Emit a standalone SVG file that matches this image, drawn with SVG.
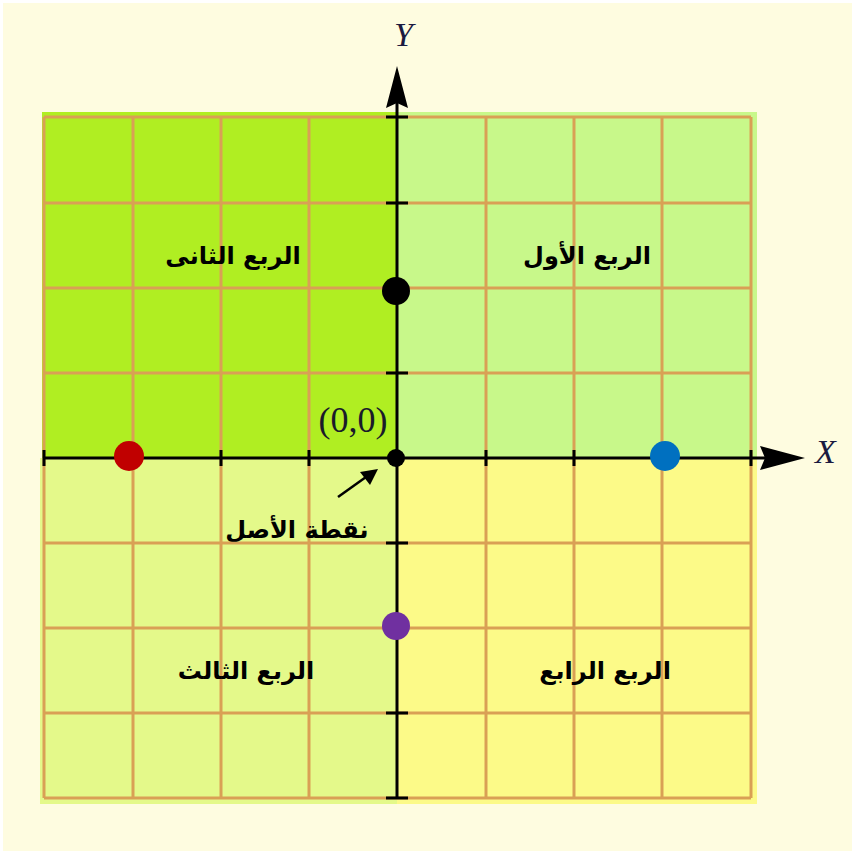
<svg xmlns="http://www.w3.org/2000/svg" width="855" height="854" viewBox="0 0 855 854">
<defs>
<style>
.grid{stroke:#D9A055;stroke-width:3;fill:none}
.axis{stroke:#000;stroke-width:3;fill:none}
.tick{stroke:#000;stroke-width:3}
.ar{font-family:"DejaVu Sans",sans-serif;font-weight:bold;font-size:24px;fill:#000;text-anchor:middle}
.lat{font-family:"Liberation Serif",serif;font-style:italic;font-size:34px;fill:#1a1a40}
</style>
</defs>
<rect x="0" y="0" width="855" height="854" fill="#ffffff"/>
<rect x="3" y="3" width="849" height="848" fill="#FEFCE0"/>
<g id="quadrants">
<rect id="q2" x="42" y="112" width="355" height="346" fill="#B0EE22"/>
<rect id="q1" x="397" y="112" width="360" height="346" fill="#C8F88A"/>
<rect id="q3" x="40" y="458" width="357" height="346" fill="#E4F98A"/>
<rect id="q4" x="397" y="458" width="360" height="346" fill="#FCFA88"/>
</g>
<g id="grid" class="grid">
<path d="M44 117V798M133 117V798M221 117V798M309 117V798M486 117V798M574 117V798M662 117V798M751 117V798"/>
<path d="M44 117H751M44 203H751M44 288H751M44 373H751M44 543H751M44 628H751M44 713H751M44 798H751"/>
</g>
<g id="connectors">
<line class="axis" x1="44" y1="458" x2="765" y2="458"/>
<polygon points="805,458 760,446 765,458 760,470" fill="#000"/>
<line class="axis" x1="397" y1="798" x2="397" y2="100"/>
<polygon points="397,66 386,108 397,103 408,108" fill="#000"/>
<g class="tick">
<path d="M44 450V466M133 450V466M221 450V466M309 450V466M486 450V466M574 450V466M662 450V466M751 450V466"/>
<path d="M386 117H408M386 203H408M386 288H408M386 373H408M386 543H408M386 628H408M386 713H408M386 798H408"/>
</g>
<line x1="338" y1="497" x2="366" y2="477" stroke="#000" stroke-width="2.5"/>
<polygon points="378,469 360,472 370,485" fill="#000"/>
</g>
<g id="labels">
<text class="lat" x="394" y="46">Y</text>
<text class="lat" x="815" y="463">X</text>
<text x="353" y="432" font-family="Liberation Serif,serif" font-size="36" fill="#1a1a2a" text-anchor="middle">(0,0)</text>
<text class="ar" x="233" y="264" direction="rtl">الربع الثانى</text>
<text class="ar" x="587" y="264" direction="rtl">الربع الأول</text>
<text class="ar" x="246" y="679" direction="rtl">الربع الثالث</text>
<text class="ar" x="605" y="679" direction="rtl">الربع الرابع</text>
<text class="ar" x="297" y="538" direction="rtl">نقطة الأصل</text>
</g>
<g id="points">
<circle id="origin" cx="396" cy="458" r="9" fill="#000"/>
<circle id="p-black" cx="396" cy="291" r="14" fill="#000"/>
<circle id="p-purple" cx="396" cy="626" r="14" fill="#7030A0"/>
<circle id="p-red" cx="129" cy="456" r="15" fill="#C00000"/>
<circle id="p-blue" cx="665" cy="456" r="15" fill="#0070C0"/>
</g>
</svg>
